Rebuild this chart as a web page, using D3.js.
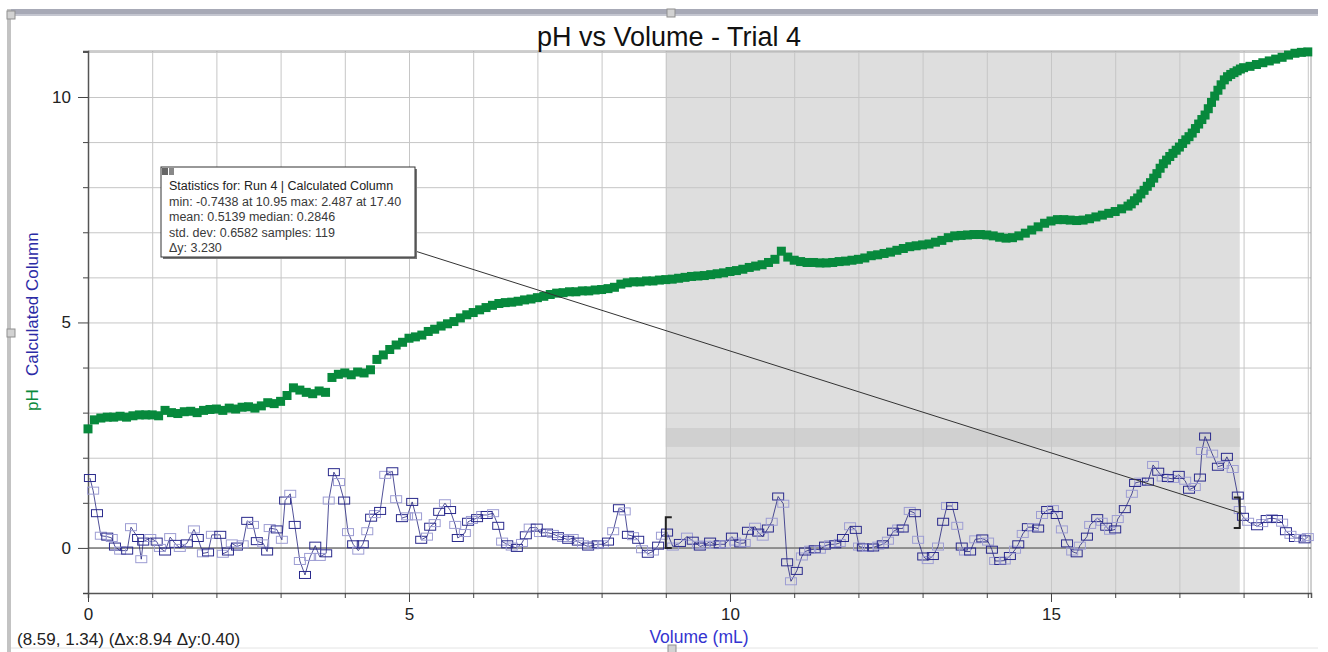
<!DOCTYPE html>
<html>
<head>
<meta charset="utf-8">
<script src="https://cdn.jsdelivr.net/npm/d3@7"></script>
<style>
  body { margin: 0; background: #fff; }
  text { font-family: Arial, "Liberation Sans", sans-serif; }
</style>
</head>
<body>
<div id="chart"></div>
<script>
// pH readings: [volume (mL), pH]
const phData = [
  [0.0,2.64],[0.1,2.84],[0.2,2.88],[0.3,2.90],[0.4,2.90],[0.5,2.92],[0.6,2.90],[0.7,2.93],[0.8,2.95],[0.9,2.95],
  [1.0,2.95],[1.1,2.93],[1.2,3.05],[1.3,3.00],[1.4,2.98],[1.5,3.02],[1.6,3.03],[1.7,3.00],[1.8,3.05],[1.9,3.07],
  [2.0,3.08],[2.1,3.05],[2.2,3.10],[2.3,3.08],[2.4,3.12],[2.5,3.13],[2.6,3.10],[2.7,3.15],[2.8,3.22],[2.9,3.20],
  [3.0,3.25],[3.1,3.38],[3.2,3.55],[3.3,3.50],[3.4,3.45],[3.5,3.42],[3.6,3.48],[3.7,3.45],[3.8,3.78],[3.9,3.85],
  [4.0,3.88],[4.1,3.84],[4.2,3.90],[4.3,3.88],[4.4,3.95],[4.5,4.18],[4.6,4.28],[4.7,4.40],[4.8,4.50],[4.9,4.56],
  [5.0,4.65],[5.1,4.68],[5.2,4.72],[5.3,4.80],[5.4,4.85],[5.5,4.92],[5.6,4.97],[5.7,5.02],[5.8,5.10],[5.9,5.17],
  [6.0,5.22],[6.1,5.28],[6.2,5.33],[6.3,5.38],[6.4,5.42],[6.5,5.44],[6.6,5.45],[6.7,5.47],[6.8,5.50],[6.9,5.52],
  [7.0,5.55],[7.1,5.58],[7.2,5.62],[7.3,5.65],[7.4,5.66],[7.5,5.68],[7.6,5.68],[7.7,5.70],[7.8,5.70],[7.9,5.72],
  [8.0,5.73],[8.1,5.75],[8.2,5.78],[8.3,5.85],[8.4,5.88],[8.5,5.90],[8.6,5.90],[8.7,5.92],[8.8,5.92],[8.9,5.94],
  [9.0,5.95],[9.1,5.96],[9.2,5.98],[9.3,6.00],[9.4,6.02],[9.5,6.03],[9.6,6.04],[9.7,6.06],[9.8,6.08],[9.9,6.10],
  [10.0,6.13],[10.1,6.15],[10.2,6.18],[10.3,6.22],[10.4,6.25],[10.5,6.28],[10.6,6.33],[10.7,6.40],[10.8,6.58],[10.9,6.45],
  [11.0,6.38],[11.1,6.35],[11.2,6.33],[11.3,6.33],[11.4,6.32],[11.5,6.32],[11.6,6.33],[11.7,6.35],[11.8,6.36],[11.9,6.38],
  [12.0,6.40],[12.1,6.43],[12.2,6.48],[12.3,6.50],[12.4,6.53],[12.5,6.56],[12.6,6.60],[12.7,6.64],[12.8,6.68],[12.9,6.70],
  [13.0,6.72],[13.1,6.74],[13.2,6.78],[13.3,6.82],[13.4,6.88],[13.5,6.92],[13.6,6.93],[13.7,6.94],[13.8,6.95],[13.9,6.95],
  [14.0,6.94],[14.1,6.92],[14.2,6.89],[14.3,6.87],[14.4,6.88],[14.5,6.92],[14.6,6.98],[14.7,7.05],[14.8,7.12],[14.9,7.20],
  [15.0,7.25],[15.1,7.28],[15.2,7.28],[15.3,7.27],[15.4,7.26],[15.5,7.27],[15.6,7.30],[15.7,7.34],[15.8,7.38],[15.9,7.42],
  [16.0,7.46],[16.1,7.52],[16.2,7.58],[16.25,7.63],[16.3,7.70],[16.35,7.76],[16.4,7.85],[16.45,7.93],[16.5,8.02],[16.55,8.10],
  [16.6,8.20],[16.65,8.30],[16.7,8.42],[16.75,8.52],[16.8,8.60],[16.85,8.68],[16.9,8.75],[16.95,8.82],[17.0,8.89],[17.05,8.97],
  [17.1,9.05],[17.15,9.12],[17.2,9.20],[17.25,9.30],[17.3,9.40],[17.35,9.50],[17.4,9.60],[17.45,9.74],[17.5,9.88],[17.55,10.02],
  [17.6,10.15],[17.65,10.27],[17.7,10.38],[17.75,10.45],[17.8,10.50],[17.85,10.54],[17.9,10.58],[17.95,10.62],
  [18.0,10.65],[18.1,10.68],[18.2,10.72],[18.3,10.76],[18.4,10.80],[18.5,10.84],[18.6,10.88],[18.7,10.93],[18.8,10.97],[18.9,10.99],
  [19.0,11.00]
];

// Calculated Column: [volume (mL), value]
const calcData = [
  [0.03,1.55],[0.08,1.27],[0.14,0.77],[0.20,0.27],[0.30,0.25],[0.37,0.22],[0.42,0.03],[0.50,-0.06],[0.61,-0.06],[0.67,0.46],
  [0.78,0.22],[0.83,-0.25],[0.86,0.14],[0.97,0.22],[1.07,0.14],[1.12,0.00],[1.20,-0.08],[1.28,0.24],[1.36,0.09],[1.43,0.00],
  [1.54,0.10],[1.65,0.41],[1.71,0.22],[1.79,-0.12],[1.87,-0.10],[1.93,0.29],[2.06,0.29],[2.10,-0.13],[2.18,-0.08],[2.24,0.10],
  [2.32,0.03],[2.41,0.08],[2.48,0.60],[2.57,0.51],[2.63,0.15],[2.73,0.10],[2.79,-0.08],[2.83,0.44],[2.94,0.41],[3.02,0.18],
  [3.07,1.05],[3.15,1.20],[3.22,0.51],[3.30,-0.29],[3.38,-0.60],[3.46,-0.20],[3.54,0.05],[3.61,-0.20],[3.71,-0.12],[3.75,1.05],
  [3.83,1.68],[3.91,1.46],[3.99,1.05],[4.05,0.35],[4.13,0.08],[4.21,-0.06],[4.28,0.08],[4.35,0.37],[4.41,0.67],[4.47,0.75],
  [4.55,0.82],[4.63,1.62],[4.74,1.70],[4.80,1.08],[4.89,0.66],[4.97,0.70],[5.05,1.02],[5.11,0.70],[5.19,0.18],[5.28,0.25],
  [5.33,0.47],[5.40,0.55],[5.47,0.80],[5.56,0.99],[5.64,0.84],[5.72,0.51],[5.76,0.22],[5.87,0.33],[5.92,0.58],[5.98,0.62],
  [6.06,0.66],[6.14,0.73],[6.21,0.73],[6.31,0.77],[6.39,0.49],[6.45,0.14],[6.53,0.08],[6.60,0.03],[6.68,0.00],[6.76,0.11],
  [6.82,0.28],[6.88,0.45],[6.99,0.45],[7.04,0.33],[7.15,0.34],[7.24,0.31],[7.32,0.26],[7.40,0.22],[7.48,0.18],[7.55,0.22],
  [7.63,0.14],[7.71,0.08],[7.79,0.03],[7.87,0.06],[7.94,0.08],[8.02,0.08],[8.10,0.14],[8.18,0.37],[8.27,0.88],[8.36,0.81],
  [8.41,0.29],[8.49,0.26],[8.57,0.18],[8.63,-0.03],[8.72,-0.13],[8.80,-0.08],[8.88,0.05],[8.94,0.27],[9.02,0.34],[9.11,0.03],
  [9.22,0.11],[9.33,0.25],[9.42,0.16],[9.50,0.07],[9.53,0.03],[9.61,0.07],[9.69,0.14],[9.77,0.07],[9.84,0.08],[9.92,0.08],
  [10.03,0.25],[10.08,0.14],[10.16,0.10],[10.23,0.11],[10.28,0.38],[10.39,0.47],[10.44,0.34],[10.51,0.25],[10.59,0.43],[10.65,0.58],
  [10.75,1.14],[10.83,0.98],[10.89,-0.32],[10.95,-0.74],[11.04,-0.51],[11.12,-0.19],[11.17,-0.08],[11.25,-0.04],[11.32,-0.03],[11.40,-0.04],
  [11.48,0.05],[11.56,0.08],[11.64,0.08],[11.71,0.11],[11.76,0.22],[11.87,0.48],[11.96,0.40],[12.01,0.03],[12.07,0.01],[12.15,0.00],
  [12.23,0.01],[12.31,0.05],[12.38,0.08],[12.46,0.16],[12.54,0.36],[12.62,0.43],[12.69,0.43],[12.80,0.82],[12.88,0.77],[12.93,0.18],
  [13.01,-0.19],[13.08,-0.27],[13.16,-0.18],[13.24,0.03],[13.32,0.58],[13.38,0.93],[13.46,0.93],[13.54,0.49],[13.61,0.03],[13.66,-0.08],
  [13.74,-0.08],[13.82,0.19],[13.93,0.21],[14.02,0.14],[14.08,-0.04],[14.13,-0.29],[14.21,-0.29],[14.28,-0.28],[14.36,-0.18],[14.44,-0.04],
  [14.49,0.08],[14.56,0.31],[14.64,0.46],[14.72,0.46],[14.80,0.43],[14.86,0.73],[14.94,0.84],[15.03,0.86],[15.09,0.73],[15.17,0.41],
  [15.25,0.10],[15.33,-0.08],[15.40,-0.12],[15.45,0.05],[15.56,0.25],[15.61,0.51],[15.72,0.66],[15.79,0.58],[15.86,0.47],[15.92,0.38],
  [16.00,0.41],[16.04,0.64],[16.15,0.86],[16.26,1.20],[16.31,1.44],[16.39,1.47],[16.51,1.47],[16.59,1.84],[16.67,1.69],[16.74,1.56],
  [16.82,1.55],[16.90,1.53],[16.99,1.62],[17.09,1.49],[17.15,1.29],[17.24,1.35],[17.32,1.56],[17.35,2.15],[17.40,2.47],[17.51,2.09],
  [17.60,1.80],[17.68,1.84],[17.74,2.02],[17.83,1.75],[17.91,1.16],[17.94,0.84],[17.99,0.69],[18.07,0.58],[18.21,0.48],[18.29,0.55],
  [18.36,0.64],[18.44,0.66],[18.52,0.64],[18.60,0.56],[18.66,0.37],[18.73,0.29],[18.80,0.22],[18.88,0.22],[18.95,0.19],[19.00,0.24]
];

const xMajorTicks = [0, 5, 10, 15];
const yMajorTicks = [0, 5, 10];
const statsLines = [
  "Statistics for: Run 4 | Calculated Column",
  "min: -0.7438 at 10.95 max: 2.487 at 17.40",
  "mean: 0.5139 median: 0.2846",
  "std. dev: 0.6582 samples: 119",
  "\u0394y: 3.230"
];
const selection = { from: 9.0, to: 17.94 };
const statBand = [2.24, 2.66];
const cursorText = "(8.59, 1.34) (\u0394x:8.94 \u0394y:0.40)";

const W = 1328, H = 652;
const pLeft = 88, pRight = 1311, pTop = 51, pBottom = 593;

const svg = d3.select("#chart").append("svg")
  .attr("width", W).attr("height", H);

svg.append("rect").attr("width", W).attr("height", H).attr("fill", "#fff");

// window frame
svg.append("rect").attr("x", 7).attr("y", 9).attr("width", 1311).attr("height", 7).attr("fill", "#a7a9b6");
svg.append("rect").attr("x", 7).attr("y", 14).attr("width", 1311).attr("height", 2).attr("fill", "#c4c6d0");
svg.append("rect").attr("x", 7).attr("y", 9).attr("width", 4).attr("height", H - 9).attr("fill", "#c3c3c3");
svg.append("line").attr("x1", 11).attr("x2", 1318).attr("y1", 648).attr("y2", 648).attr("stroke", "#e4e4e4");
[[7, 11], [667, 9], [7, 329], [668, 645]].forEach(p => {
  svg.append("rect").attr("x", p[0]).attr("y", p[1]).attr("width", 8).attr("height", 8)
    .attr("fill", "#d2d2d2").attr("stroke", "#8f8f8f");
});

const x = d3.scaleLinear().domain([0, 19.05]).range([pLeft, pRight]);
const y = d3.scaleLinear().domain([-1, 11.02]).range([pBottom, pTop]);

// selection shading
svg.append("rect")
  .attr("x", x(selection.from)).attr("y", pTop)
  .attr("width", x(selection.to) - x(selection.from)).attr("height", pBottom - pTop)
  .attr("fill", "#dedede");
svg.append("rect")
  .attr("x", x(selection.from)).attr("y", y(statBand[1]))
  .attr("width", x(selection.to) - x(selection.from)).attr("height", y(statBand[0]) - y(statBand[1]))
  .attr("fill", "#d0d0d0");

// grid
const xGridVals = d3.range(0, 20, 1);
const yGridVals = d3.range(-1, 12, 1);
svg.append("g")
  .attr("transform", `translate(0,${pBottom})`)
  .call(d3.axisBottom(x).tickValues(xGridVals).tickSize(-(pBottom - pTop)).tickFormat(""))
  .call(g => g.select(".domain").remove())
  .call(g => g.selectAll("line").attr("stroke", "#c6c6c6"));
svg.append("g")
  .attr("transform", `translate(${pLeft},0)`)
  .call(d3.axisLeft(y).tickValues(yGridVals).tickSize(-(pRight - pLeft)).tickFormat(""))
  .call(g => g.select(".domain").remove())
  .call(g => g.selectAll("line").attr("stroke", "#c6c6c6"));

// plot border
svg.append("line").attr("x1", pLeft).attr("x2", pRight).attr("y1", pTop).attr("y2", pTop).attr("stroke", "#a0a0a0");
svg.append("line").attr("x1", pRight).attr("x2", pRight).attr("y1", pTop).attr("y2", pBottom).attr("stroke", "#a0a0a0");

// zero line
svg.append("line")
  .attr("x1", pLeft).attr("x2", pRight).attr("y1", y(0)).attr("y2", y(0))
  .attr("stroke", "#7a7a7a").attr("stroke-width", 1.5);

// axes
const xAxis = svg.append("g")
  .attr("transform", `translate(0,${pBottom})`)
  .call(d3.axisBottom(x).tickValues(xGridVals)
    .tickSize(5).tickPadding(10)
    .tickFormat(d => xMajorTicks.includes(d) ? d : ""));
xAxis.select(".domain").attr("stroke", "#555").attr("stroke-width", 1.5);
xAxis.selectAll(".tick line").attr("stroke", "#444")
  .attr("y2", d => xMajorTicks.includes(d) ? 9 : 5);
xAxis.selectAll("text").attr("font-size", 17).attr("fill", "#222")
  .attr("font-family", "Arial, 'Liberation Sans', sans-serif");

const yAxis = svg.append("g")
  .attr("transform", `translate(${pLeft},0)`)
  .call(d3.axisLeft(y).tickValues(yGridVals)
    .tickSize(5).tickPadding(12)
    .tickFormat(d => yMajorTicks.includes(d) ? d : ""));
yAxis.select(".domain").attr("stroke", "#555").attr("stroke-width", 1.5);
yAxis.selectAll(".tick line").attr("stroke", "#444")
  .attr("x2", d => yMajorTicks.includes(d) ? -10 : -5);
yAxis.selectAll("text").attr("font-size", 17).attr("fill", "#222")
  .attr("font-family", "Arial, 'Liberation Sans', sans-serif");

// calculated column line + markers
const line = d3.line().x(d => x(d[0])).y(d => y(d[1]));
svg.append("path").datum(calcData)
  .attr("d", line).attr("fill", "none")
  .attr("stroke", "#23237e").attr("stroke-width", 0.8);

svg.append("g").selectAll("rect")
  .data(calcData).join("rect")
  .attr("x", d => x(d[0]) - 5.5).attr("y", d => y(d[1]) - 3.5)
  .attr("width", 11).attr("height", 7)
  .attr("fill", "none")
  .attr("stroke", (d, i) => i % 2 ? "#9d9dd3" : "#2a2a8c")
  .attr("stroke-width", 1);

// pH markers
svg.append("g").selectAll("rect")
  .data(phData).join("rect")
  .attr("x", d => x(d[0]) - 4.5).attr("y", d => y(d[1]) - 4.5)
  .attr("width", 9).attr("height", 9)
  .attr("fill", "#07893c");

// brackets
function bracket(xv, yv, dir) {
  const px = x(xv), y1 = y(yv + 0.34), y2 = y(yv - 0.34);
  svg.append("path")
    .attr("d", `M${px + dir * 6},${y1}H${px}V${y2}H${px + dir * 6}`)
    .attr("fill", "none").attr("stroke", "#222").attr("stroke-width", 2);
}
bracket(selection.from, 0.34, 1);
bracket(selection.to, 0.78, -1);

// stats box
const box = { x: 161, y: 167, w: 254, h: 90 };
svg.append("line")
  .attr("x1", box.x + box.w).attr("y1", box.y + box.h - 6)
  .attr("x2", x(selection.to)).attr("y2", y(0.78))
  .attr("stroke", "#333").attr("stroke-width", 1);
svg.append("rect")
  .attr("x", box.x + 2).attr("y", box.y + 2).attr("width", box.w).attr("height", box.h)
  .attr("fill", "#777");
svg.append("rect")
  .attr("x", box.x).attr("y", box.y).attr("width", box.w).attr("height", box.h)
  .attr("fill", "#fff").attr("stroke", "#333");
svg.append("rect").attr("x", box.x + 1).attr("y", box.y + 1).attr("width", 6).attr("height", 7).attr("fill", "#666");
svg.append("rect").attr("x", box.x + 8).attr("y", box.y + 1).attr("width", 5).attr("height", 7).attr("fill", "#888");
svg.append("g").selectAll("text")
  .data(statsLines).join("text")
  .attr("x", box.x + 8)
  .attr("y", (d, i) => box.y + 23 + i * 15.5)
  .attr("font-size", 12.5)
  .attr("fill", (d, i) => i === 0 ? "#222" : "#3a3a3a")
  .text(d => d);

// title
svg.append("text").attr("x", 669).attr("y", 46)
  .attr("text-anchor", "middle").attr("font-size", 27).attr("fill", "#111")
  .text("pH vs Volume - Trial 4");

// y label
svg.append("text").attr("transform", "translate(38,411) rotate(-90)")
  .attr("font-size", 17).attr("fill", "#0b8a3c").text("pH");
svg.append("text").attr("transform", "translate(38,376) rotate(-90)")
  .attr("font-size", 17).attr("fill", "#2b2ba6").text("Calculated Column");

// x label
svg.append("text").attr("x", 699).attr("y", 643)
  .attr("text-anchor", "middle").attr("font-size", 17.5).attr("fill", "#3434d0")
  .text("Volume (mL)");

// cursor readout
svg.append("text").attr("x", 17).attr("y", 645)
  .attr("font-size", 17).attr("fill", "#222")
  .text(cursorText);
</script>
</body>
</html>
